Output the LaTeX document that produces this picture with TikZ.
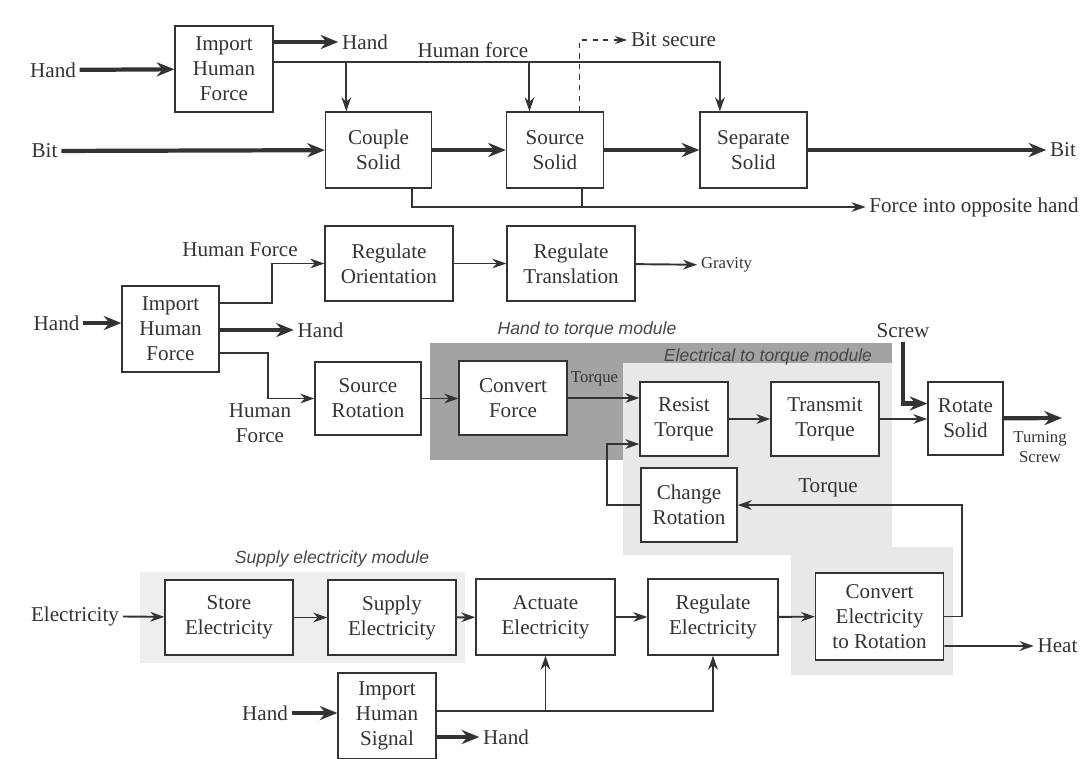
\documentclass[tikz,border=0pt]{standalone}
\usepackage{fontspec}
\setmainfont{Liberation Serif}
\setsansfont{Liberation Sans}
\usepackage{tikz}
\usetikzlibrary{
    arrows.meta,
    calc
}

\definecolor{ink}{HTML}{333333}
\definecolor{modDark}{HTML}{A3A3A3}
\definecolor{modLight}{HTML}{E8E8E8}
\definecolor{modPale}{HTML}{EEEEEE}

\newcommand{\fnfont}{\fontsize{12}{14.2}\selectfont}
\newcommand{\tagfont}{\fontsize{9.5}{11.4}\selectfont}
\newcommand{\modfont}{\sffamily\itshape\fontsize{10}{12}\selectfont}

\tikzset{
    func/.style 2 args={draw=ink, line width=0.75pt, fill=white, align=center,
        inner sep=0pt, font=\fnfont, text=ink,
        minimum width=#1*0.2mm, minimum height=#2*0.2mm},
    lbl/.style={font=\fnfont, text=ink, inner sep=2pt, align=center},
    tag/.style={font=\tagfont, text=ink, inner sep=2pt, align=center},
    modlbl/.style={font=\modfont, text=ink!90, inner sep=0pt},
    flow/.style={draw=ink, line width=1.1pt, -{Stealth[length=8pt,width=5.5pt]}},
    matflow/.style={draw=ink, line width=2.4pt, -{Stealth[length=10pt,width=8pt]}},
    wire/.style={draw=ink, line width=1.1pt},
    sigflow/.style={draw=ink, line width=0.6pt, dash pattern=on 3pt off 3pt,
        -{Stealth[length=7pt,width=4.5pt]}}
}

\begin{document}
\begin{tikzpicture}[x=0.2mm, y=-0.2mm]
    \fill[white] (0,0) rectangle (1083,758);
    \useasboundingbox (0,0) rectangle (1083,758);

    % module shading
    \fill[modPale] (140,572) rectangle (465,663);
    \fill[modDark] (430,343) rectangle (892,460);
    \fill[modLight] (623,363) -- (892,363) -- (892,547) -- (953,547)
        -- (953,675) -- (791,675) -- (791,555) -- (623,555) -- cycle;
    \node[modlbl] (mhand) at (587,330) {Hand to torque module};
    \node[modlbl] (melec) at (768,357) {Electrical to torque module};
    \node[modlbl] (msupply) at (332,559) {Supply electricity module};

    % bit handling
    \node[func={98}{86}] (ihfA) at (224,69) {Import\\Human\\Force};
    \node[func={106}{76}] (couple) at (378.5,150) {Couple\\Solid};
    \node[func={97}{76}] (source) at (555,150) {Source\\Solid};
    \node[func={107}{76}] (separate) at (753.5,150) {Separate\\Solid};

    \node[lbl] (handA) at (53,70) {Hand};
    \node[lbl] (handAout) at (365,42) {Hand};
    \node[lbl] (hforceA) at (473,50) {Human force};
    \node[lbl] (bitin) at (44.5,151) {Bit};
    \node[lbl] (bitout) at (1063,150) {Bit};
    \node[lbl] (opposite) at (974,207) {Force into opposite hand};
    \node[lbl] (secure) at (673.5,40) {Bit secure};

    \coordinate (hfA) at ($(ihfA.east)+(0,-7)$);
    \coordinate (toCouple) at ($(couple.north west)!.2!(couple.north east)$);
    \coordinate (toSource) at ($(source.north west)!.24!(source.north east)$);
    \coordinate (toSeparate) at ($(separate.north west)!.19!(separate.north east)$);
    \coordinate (secSource) at ($(source.north west)!.75!(source.north east)$);
    \coordinate (fromCouple) at ($(couple.south west)!.81!(couple.south east)$);
    \coordinate (fromSource) at ($(source.south west)!.77!(source.south east)$);

    \draw[matflow] (handA) -- (ihfA);
    \draw[matflow] (ihfA.east |- handAout) -- (handAout);
    \draw[flow] (hfA) -| (toSeparate);
    \draw[flow] (hfA -| toCouple) -- (toCouple);
    \draw[flow] (hfA -| toSource) -- (toSource);
    \draw[matflow] (bitin) -- (couple);
    \draw[matflow] (couple) -- (source);
    \draw[matflow] (source) -- (separate);
    \draw[matflow] (separate) -- (bitout);
    \draw[flow] (fromCouple) |- (opposite);
    \draw[wire] (fromSource) -- (fromSource |- opposite);
    \draw[sigflow] (secSource) |- (secure);

    % hand driven rotation
    \node[func={97}{86}] (ihfB) at (170.5,329) {Import\\Human\\Force};
    \node[func={128}{75}] (orient) at (389,263.5) {Regulate\\Orientation};
    \node[func={128}{75}] (transl) at (571,263.5) {Regulate\\Translation};
    \node[func={106}{73}] (srot) at (368,398.5) {Source\\Rotation};
    \node[func={108}{74}] (cforce) at (513,398) {Convert\\Force};
    \node[func={88}{74}] (resist) at (684,419) {Resist\\Torque};
    \node[func={108}{74}] (transmit) at (825,419) {Transmit\\Torque};
    \node[func={75}{73}] (rotate) at (965.5,418.5) {Rotate\\Solid};
    \node[func={96}{74}] (chrot) at (689,505) {Change\\Rotation};

    \node[lbl] (handB) at (56.5,323) {Hand};
    \node[lbl] (hforceB) at (240,250) {Human Force};
    \node[lbl] (handBout) at (320.5,330) {Hand};
    \node[lbl] (hforceC) at (260,423) {Human\\Force};
    \node[tag] (gravity) at (726.5,265) {Gravity};
    \node[tag] (torqueA) at (594.5,379) {Torque};
    \node[lbl] (screw) at (903,331) {Screw};
    \node[tag] (turning) at (1040,447) {Turning\\Screw};
    \node[lbl] (torqueB) at (828,488) {Torque};
    \coordinate (turnEnd) at (1062,418);

    \draw[matflow] (handB) -- (ihfB.west |- handB);
    \draw[flow] ($(ihfB.east)+(0,-26)$) -- ++(52,0) |- (orient);
    \draw[matflow] (ihfB.east |- handBout) -- (handBout);
    \draw[flow] ($(ihfB.east)+(0,24)$) -- ++(48,0) |- (srot);
    \draw[flow] (orient) -- (transl);
    \draw[flow] (transl) -- (gravity);
    \draw[flow] (srot) -- (srot -| cforce.west);
    \draw[flow] (cforce) -- (cforce -| resist.west);
    \draw[flow] (resist) -- (transmit);
    \draw[flow] (transmit) -- (transmit -| rotate.west);
    \draw[matflow] (screw) |- ($(rotate.west)+(0,-15)$);
    \draw[matflow] (rotate) -- (turnEnd);
    \draw[flow] (chrot.west) -- ++(-33,0) |- ($(resist.west)+(0,25)$);

    % electric drive
    \node[func={128}{75}] (store) at (229,617.5) {Store\\Electricity};
    \node[func={128}{75}] (supply) at (392,617.5) {Supply\\Electricity};
    \node[func={139}{76}] (actuate) at (545.5,617) {Actuate\\Electricity};
    \node[func={130}{76}] (regel) at (713,617) {Regulate\\Electricity};
    \node[func={128}{87}] (cer) at (879.6,616.5) {Convert\\Electricity\\to Rotation};
    \node[func={98}{86}] (ihs) at (387,716) {Import\\Human\\Signal};

    \node[lbl] (elec) at (75,616) {Electricity};
    \node[lbl] (heat) at (1057.5,646) {Heat};
    \node[lbl] (handC) at (265,713) {Hand};
    \node[lbl] (handCout) at (506,737) {Hand};

    \coordinate (sig) at ($(ihs.east)+(0,-5)$);

    \draw[flow] (elec) -- (store);
    \draw[flow] (store) -- (supply);
    \draw[flow] (supply) -- (actuate);
    \draw[flow] (actuate) -- (regel);
    \draw[flow] (regel) -- (cer);
    \draw[flow] ($(cer.east)+(0,29.5)$) -- (heat);
    \draw[flow] (cer.east) -- ++(18,0) |- (chrot);
    \draw[matflow] (handC) -- (ihs.west |- handC);
    \draw[matflow] (ihs.east |- handCout) -- (handCout);
    \draw[flow] (sig) -| (regel);
    \draw[flow] (sig -| actuate) -- (actuate);
\end{tikzpicture}
\end{document}
